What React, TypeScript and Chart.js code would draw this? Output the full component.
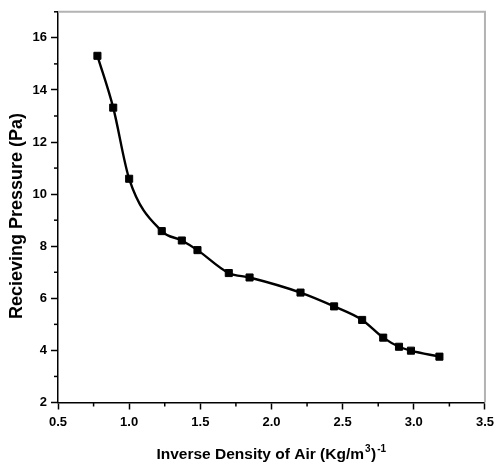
import React, { useEffect, useRef } from "react";
import { Chart, registerables } from "chart.js";

Chart.register(...registerables);

// Data
const inverseDensity = [0.777, 0.888, 1.0, 1.229, 1.37, 1.48, 1.7, 1.846, 2.204, 2.44, 2.637, 2.785, 2.896, 2.98, 3.18];
const pressure = [15.31, 13.32, 10.59, 8.58, 8.22, 7.85, 6.97, 6.8, 6.22, 5.69, 5.17, 4.49, 4.14, 3.99, 3.76];

// Tick values
const xMajor = [0.5, 1.0, 1.5, 2.0, 2.5, 3.0, 3.5];
const xMinor = [0.75, 1.25, 1.75, 2.25, 2.75, 3.25];
const yMajor = [2, 4, 6, 8, 10, 12, 14, 16];
const yMinor = [3, 5, 7, 9, 11, 13, 15, 17];

const xTitleParts = [
  { text: "Inverse Density of Air (Kg/m", sup: false },
  { text: "3", sup: true },
  { text: ")", sup: false },
  { text: "-1", sup: true },
];
const yTitle = "Recieving Pressure (Pa)";

const FONT = '"Liberation Sans", Arial, Helvetica, sans-serif';

const decorPlugin = {
  id: "decor",
  afterDraw(chart: any) {
    const { ctx, chartArea, scales } = chart;
    const x = scales.x;
    const y = scales.y;
    ctx.save();
    // minor ticks
    ctx.strokeStyle = "#000";
    ctx.lineWidth = 1.5;
    xMinor.forEach((v) => {
      const px = x.getPixelForValue(v);
      ctx.beginPath();
      ctx.moveTo(px, chartArea.bottom);
      ctx.lineTo(px, chartArea.bottom + 4);
      ctx.stroke();
    });
    yMinor.forEach((v) => {
      const py = y.getPixelForValue(v);
      ctx.beginPath();
      ctx.moveTo(chartArea.left, py);
      ctx.lineTo(chartArea.left - 4, py);
      ctx.stroke();
    });
    // grey frame on top and right
    ctx.strokeStyle = "#b3b3b3";
    ctx.lineWidth = 2;
    ctx.beginPath();
    ctx.moveTo(chartArea.left, chartArea.top);
    ctx.lineTo(chartArea.right, chartArea.top);
    ctx.lineTo(chartArea.right, chartArea.bottom);
    ctx.stroke();

    // x title with superscripts
    ctx.fillStyle = "#000";
    ctx.textBaseline = "alphabetic";
    ctx.textAlign = "left";
    const mainFont = `bold 15.5px ${FONT}`;
    const supFont = `bold 10px ${FONT}`;
    let total = 0;
    const widths = xTitleParts.map((p) => {
      ctx.font = p.sup ? supFont : mainFont;
      const w = ctx.measureText(p.text).width + (p.sup ? 1.5 : 0);
      total += w;
      return w;
    });
    const cx = (chartArea.left + chartArea.right) / 2;
    let sx = cx - total / 2;
    const baseY = 459;
    xTitleParts.forEach((p, i) => {
      ctx.font = p.sup ? supFont : mainFont;
      ctx.fillText(p.text, sx + (p.sup ? 1 : 0), p.sup ? baseY - 7 : baseY);
      sx += widths[i];
    });

    // y title
    ctx.font = `bold 18px ${FONT}`;
    ctx.textAlign = "center";
    ctx.textBaseline = "alphabetic";
    ctx.translate(21.5, 216);
    ctx.rotate(-Math.PI / 2);
    ctx.fillText(yTitle, 0, 0);
    ctx.restore();
  },
};

export default function App() {
  const ref = useRef<HTMLCanvasElement | null>(null);

  useEffect(() => {
    if (!ref.current) return;
    const tickFont = { family: FONT, size: 13, weight: "bold" as const };
    const chart = new Chart(ref.current, {
      type: "line",
      data: {
        datasets: [
          {
            data: inverseDensity.map((v, i) => ({ x: v, y: pressure[i] })),
            borderColor: "#000",
            borderWidth: 2.4,
            backgroundColor: "#000",
            pointStyle: "rect",
            pointRadius: 5,
            pointBorderWidth: 1,
            pointBackgroundColor: "#000",
            pointBorderColor: "#000",
            cubicInterpolationMode: "monotone",
            fill: false,
          },
        ],
      },
      options: {
        responsive: false,
        animation: false,
        layout: { padding: { top: 9, right: 8, left: 0, bottom: 0 } },
        plugins: {
          legend: { display: false },
          tooltip: { enabled: false },
        },
        scales: {
          x: {
            type: "linear",
            min: 0.5,
            max: 3.5,
            afterBuildTicks: (scale: any) => {
              scale.ticks = xMajor.map((v) => ({ value: v }));
            },
            afterFit: (scale: any) => {
              scale.height = 63.5;
            },
            ticks: {
              autoSkip: false,
              maxRotation: 0,
              padding: 5,
              color: "#000",
              font: tickFont,
              callback: (v: any) => Number(v).toFixed(1),
            },
            grid: {
              display: true,
              drawOnChartArea: false,
              drawTicks: true,
              tickLength: 7,
              tickColor: "#000",
              tickWidth: 1.5,
            },
            border: { display: true, color: "#000", width: 1.5 },
          },
          y: {
            type: "linear",
            min: 2,
            max: 17,
            afterBuildTicks: (scale: any) => {
              scale.ticks = yMajor.map((v) => ({ value: v }));
            },
            afterFit: (scale: any) => {
              scale.width = 58;
            },
            ticks: {
              autoSkip: false,
              padding: 4,
              color: "#000",
              font: tickFont,
              callback: (v: any) => String(v),
            },
            grid: {
              display: true,
              drawOnChartArea: false,
              drawTicks: true,
              tickLength: 7,
              tickColor: "#000",
              tickWidth: 1.5,
            },
            border: { display: true, color: "#000", width: 1.5 },
          },
        },
      },
      plugins: [decorPlugin],
    });
    return () => chart.destroy();
  }, []);

  return (
    <canvas
      ref={ref}
      width={499}
      height={466}
      style={{ position: "absolute", left: 0, top: 0, width: 499, height: 466, display: "block" }}
    />
  );
}
